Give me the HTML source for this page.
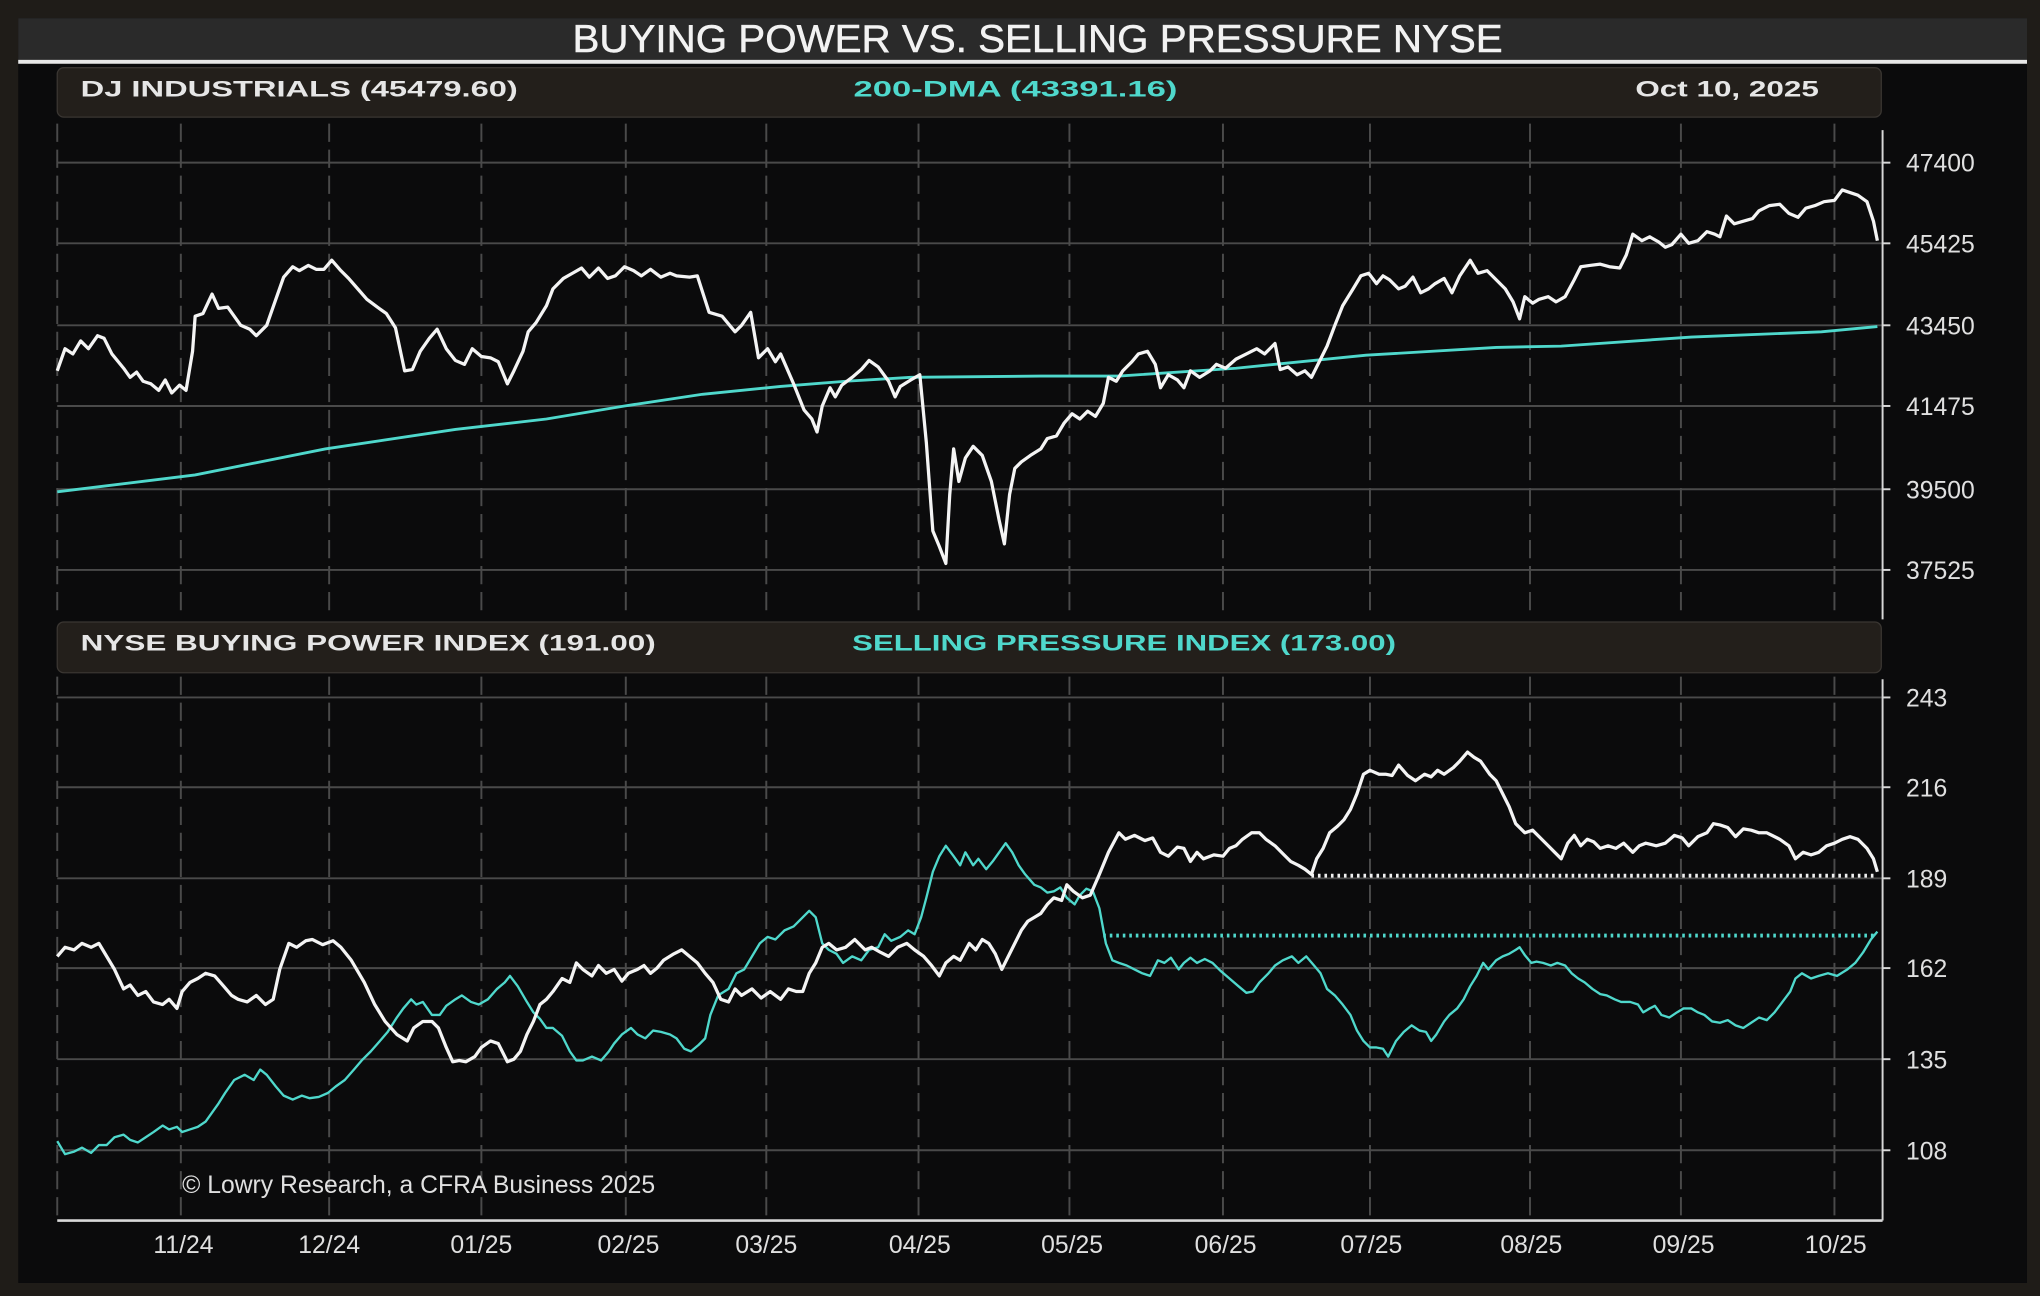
<!DOCTYPE html>
<html><head><meta charset="utf-8"><style>
html,body{margin:0;padding:0;background:#1f1c18;}
svg{display:block;}
text{font-family:"Liberation Sans",sans-serif;}
</style></head><body>
<svg width="2040" height="1296" viewBox="0 0 1568 996" preserveAspectRatio="none" xmlns="http://www.w3.org/2000/svg">
<rect x="0" y="0" width="1568" height="996" fill="#1f1c18"/>
<rect x="14" y="14" width="1544" height="972" fill="#0b0b0c"/>
<rect x="14" y="14" width="1544" height="33" fill="#2a2a2a"/>
<rect x="14" y="46" width="1544" height="3" fill="#e8e8e8"/>
<text x="440" y="40" font-size="30" fill="#f2f2f2" stroke="#f2f2f2" stroke-width="0.4" textLength="715" lengthAdjust="spacingAndGlyphs">BUYING POWER VS. SELLING PRESSURE NYSE</text>

<rect x="44" y="52" width="1402" height="38" rx="5" fill="#231f1b" stroke="#3a3632"/>
<text x="62" y="74" font-size="17" font-weight="bold" fill="#e6e6e6" textLength="336" lengthAdjust="spacingAndGlyphs">DJ INDUSTRIALS   (45479.60)</text>
<text x="656" y="74" font-size="17" font-weight="bold" fill="#4fd8cc" textLength="249" lengthAdjust="spacingAndGlyphs">200-DMA   (43391.16)</text>
<text x="1257" y="74" font-size="17" font-weight="bold" fill="#e6e6e6" textLength="141" lengthAdjust="spacingAndGlyphs">Oct 10, 2025</text>

<rect x="44" y="478" width="1402" height="39" rx="5" fill="#231f1b" stroke="#3a3632"/>
<text x="62" y="500" font-size="17" font-weight="bold" fill="#e6e6e6" textLength="442" lengthAdjust="spacingAndGlyphs">NYSE BUYING POWER INDEX   (191.00)</text>
<text x="655" y="500" font-size="17" font-weight="bold" fill="#4fd8cc" textLength="418" lengthAdjust="spacingAndGlyphs">SELLING PRESSURE INDEX   (173.00)</text>

<g stroke="#4a4a4a" stroke-width="1.5">
<line x1="44" y1="125" x2="1447" y2="125"/><line x1="44" y1="187" x2="1447" y2="187"/><line x1="44" y1="250" x2="1447" y2="250"/><line x1="44" y1="312" x2="1447" y2="312"/><line x1="44" y1="376" x2="1447" y2="376"/><line x1="44" y1="438" x2="1447" y2="438"/>
<line x1="44" y1="536" x2="1447" y2="536"/><line x1="44" y1="605" x2="1447" y2="605"/><line x1="44" y1="675" x2="1447" y2="675"/><line x1="44" y1="744" x2="1447" y2="744"/><line x1="44" y1="814" x2="1447" y2="814"/><line x1="44" y1="884" x2="1447" y2="884"/>
</g>
<g stroke="#4a4a4a" stroke-width="1.5" stroke-dasharray="14,6">
<line x1="44" y1="95" x2="44" y2="475"/><line x1="44" y1="520" x2="44" y2="938"/>
<line x1="139" y1="95" x2="139" y2="475"/><line x1="139" y1="520" x2="139" y2="938"/>
<line x1="253" y1="95" x2="253" y2="475"/><line x1="253" y1="520" x2="253" y2="938"/>
<line x1="370" y1="95" x2="370" y2="475"/><line x1="370" y1="520" x2="370" y2="938"/>
<line x1="481" y1="95" x2="481" y2="475"/><line x1="481" y1="520" x2="481" y2="938"/>
<line x1="589" y1="95" x2="589" y2="475"/><line x1="589" y1="520" x2="589" y2="938"/>
<line x1="706" y1="95" x2="706" y2="475"/><line x1="706" y1="520" x2="706" y2="938"/>
<line x1="822" y1="95" x2="822" y2="475"/><line x1="822" y1="520" x2="822" y2="938"/>
<line x1="940" y1="95" x2="940" y2="475"/><line x1="940" y1="520" x2="940" y2="938"/>
<line x1="1053" y1="95" x2="1053" y2="475"/><line x1="1053" y1="520" x2="1053" y2="938"/>
<line x1="1176" y1="95" x2="1176" y2="475"/><line x1="1176" y1="520" x2="1176" y2="938"/>
<line x1="1292" y1="95" x2="1292" y2="475"/><line x1="1292" y1="520" x2="1292" y2="938"/>
<line x1="1410" y1="95" x2="1410" y2="475"/><line x1="1410" y1="520" x2="1410" y2="938"/>
</g>
<g stroke="#d8d8d8" stroke-width="1.5">
<line x1="1447" y1="100" x2="1447" y2="476"/><line x1="1447" y1="522" x2="1447" y2="938"/>
<line x1="44" y1="938" x2="1447" y2="938" stroke-width="2"/>
<line x1="1447" y1="125" x2="1453" y2="125"/><line x1="1447" y1="187" x2="1453" y2="187"/><line x1="1447" y1="250" x2="1453" y2="250"/><line x1="1447" y1="312" x2="1453" y2="312"/><line x1="1447" y1="376" x2="1453" y2="376"/><line x1="1447" y1="438" x2="1453" y2="438"/>
<line x1="1447" y1="536" x2="1453" y2="536"/><line x1="1447" y1="605" x2="1453" y2="605"/><line x1="1447" y1="675" x2="1453" y2="675"/><line x1="1447" y1="744" x2="1453" y2="744"/><line x1="1447" y1="814" x2="1453" y2="814"/><line x1="1447" y1="884" x2="1453" y2="884"/>
</g>
<g font-size="19" fill="#e0e0e0">
<text x="1465" y="132">47400</text><text x="1465" y="194">45425</text><text x="1465" y="257">43450</text><text x="1465" y="319">41475</text><text x="1465" y="383">39500</text><text x="1465" y="445">37525</text>
<text x="1465" y="543">243</text><text x="1465" y="612">216</text><text x="1465" y="682">189</text><text x="1465" y="751">162</text><text x="1465" y="821">135</text><text x="1465" y="891">108</text>
</g>
<g font-size="19" fill="#e0e0e0" text-anchor="middle">
<text x="141" y="963">11/24</text><text x="253" y="963">12/24</text><text x="370" y="963">01/25</text><text x="483" y="963">02/25</text><text x="589" y="963">03/25</text><text x="707" y="963">04/25</text><text x="824" y="963">05/25</text><text x="942" y="963">06/25</text><text x="1054" y="963">07/25</text><text x="1177" y="963">08/25</text><text x="1294" y="963">09/25</text><text x="1411" y="963">10/25</text>
</g>
<text x="140" y="917" font-size="19" fill="#e0e0e0">© Lowry Research, a CFRA Business 2025</text>

<polyline fill="none" stroke="#4fd8cc" stroke-width="2.2" points="44,378 150,365 250,345 350,330 420,322 480,312 540,303 600,297 650,293 700,290 800,289 860,289 950,283 1050,273 1150,267 1200,266 1300,259 1400,255 1443,251"/>
<polyline fill="none" stroke="#f4f4f4" stroke-width="2.5" stroke-linejoin="round" points="44,285 50,268 56,272 62,262 68,268 75,258 80,260 86,272 95,283 100,290 105,286 110,293 116,295 122,300 127,292 132,302 138,296 143,300 148,270 150,243 156,241 163,226 168,237 175,236 185,250 192,253 197,258 205,250 212,230 218,213 225,205 230,208 237,204 243,207 249,207 255,200 262,208 268,214 275,222 282,230 290,236 297,241 304,252 311,285 317,284 323,270 330,260 336,253 343,268 350,277 357,280 363,268 370,274 377,275 383,278 390,295 395,285 402,270 406,255 412,248 420,235 425,222 433,214 440,210 447,206 453,213 460,206 467,214 473,212 480,205 487,208 493,212 500,207 508,213 515,210 520,212 530,213 536,212 545,240 555,243 565,255 570,250 577,240 583,275 590,268 596,278 600,272 610,295 618,315 624,322 628,332 632,312 638,298 642,305 647,296 655,290 662,284 668,277 675,282 683,293 688,305 692,297 700,292 707,288 712,340 717,408 722,420 727,433 730,380 733,345 737,370 742,352 748,343 755,350 762,370 768,400 772,418 776,380 780,360 785,355 792,350 800,345 805,337 812,335 818,325 824,318 830,322 836,316 842,320 848,310 852,290 858,293 863,285 870,278 875,272 882,270 888,280 892,298 898,288 905,292 910,298 915,285 922,290 930,285 935,280 942,283 950,276 958,272 966,268 972,272 980,264 984,284 990,282 997,288 1003,285 1008,290 1013,280 1020,266 1026,250 1032,235 1040,222 1046,212 1052,210 1058,218 1063,212 1068,215 1075,222 1080,220 1086,213 1092,225 1098,222 1103,218 1110,214 1116,225 1122,212 1130,200 1136,210 1143,208 1150,215 1157,222 1163,232 1168,245 1172,228 1178,233 1183,230 1190,228 1196,232 1203,228 1210,215 1215,205 1222,204 1230,203 1237,205 1245,206 1250,196 1255,180 1262,185 1268,182 1275,186 1280,190 1285,188 1292,180 1298,187 1305,185 1312,178 1318,180 1322,182 1327,166 1333,172 1340,170 1347,168 1352,162 1360,158 1368,157 1375,164 1382,167 1388,160 1395,158 1402,155 1410,154 1416,146 1422,148 1428,150 1435,155 1440,170 1443,185"/>

<line x1="1008" y1="673" x2="1443" y2="673" stroke="#f0f0f0" stroke-width="3" stroke-dasharray="2,3"/>
<line x1="848" y1="719" x2="1443" y2="719" stroke="#4fd8cc" stroke-width="3" stroke-dasharray="2,3"/>

<polyline fill="none" stroke="#4fd8cc" stroke-width="1.8" stroke-linejoin="round" points="44,877 50,887 57,885 63,882 70,886 76,880 82,880 88,874 95,872 100,876 106,878 112,874 118,870 125,865 130,868 136,866 140,870 146,868 152,866 158,862 163,855 168,848 173,840 180,830 188,826 195,830 200,822 205,826 212,835 218,842 225,845 232,842 238,844 245,843 252,840 258,835 265,830 272,822 278,815 285,808 292,800 298,793 305,782 310,775 316,768 320,772 325,770 332,780 338,780 343,773 350,768 355,765 362,770 368,772 375,768 382,760 388,755 392,750 398,758 405,770 410,778 415,783 420,790 425,790 432,796 438,808 443,815 448,815 455,812 462,815 468,808 472,802 478,795 485,790 490,795 496,798 502,792 508,793 515,795 520,798 526,806 531,808 537,803 542,798 546,780 552,765 560,760 566,748 572,745 578,735 584,725 590,720 596,722 603,715 610,712 617,705 622,700 627,705 632,725 637,730 643,733 648,740 655,735 662,738 668,730 675,728 680,718 685,723 692,720 698,715 703,718 708,705 712,690 717,670 722,658 727,650 733,658 738,665 742,655 748,665 752,660 758,668 763,662 768,655 773,648 778,655 783,665 788,672 795,680 800,682 805,686 810,685 815,682 820,690 826,695 830,688 835,683 840,685 845,698 850,725 855,738 860,740 866,742 872,745 878,748 884,750 890,738 895,740 900,736 906,745 910,740 915,736 920,740 926,737 932,740 938,746 945,752 952,758 958,763 963,762 968,755 975,748 980,742 986,738 993,735 998,740 1004,735 1010,742 1015,748 1020,760 1026,765 1032,772 1038,780 1043,792 1048,800 1053,805 1058,805 1063,806 1067,812 1073,800 1079,793 1085,788 1091,792 1096,793 1100,800 1104,795 1110,785 1114,780 1120,775 1125,768 1130,758 1135,750 1140,740 1144,745 1150,738 1155,735 1160,733 1165,730 1168,728 1172,734 1177,740 1181,739 1186,740 1192,742 1197,740 1203,742 1208,748 1213,752 1218,755 1224,760 1230,764 1235,765 1241,768 1246,770 1253,770 1259,772 1263,778 1268,775 1272,773 1277,780 1283,782 1289,778 1294,775 1300,775 1305,778 1310,780 1316,785 1322,786 1328,784 1334,788 1340,790 1346,786 1352,782 1358,784 1364,778 1370,770 1376,762 1380,752 1385,748 1392,752 1398,750 1405,748 1412,750 1420,745 1426,740 1432,732 1438,722 1443,716"/>

<polyline fill="none" stroke="#f4f4f4" stroke-width="2.5" stroke-linejoin="round" points="44,735 50,728 57,730 63,725 70,728 76,725 82,735 88,745 95,760 100,757 106,765 112,762 118,770 125,772 130,768 136,775 140,762 146,755 152,752 158,748 165,750 172,758 178,765 183,768 190,770 197,765 204,772 210,768 215,745 222,725 228,728 235,723 240,722 248,726 256,723 262,728 270,738 280,755 288,772 296,785 305,795 313,800 318,790 325,785 332,785 337,790 343,805 348,816 353,815 358,816 365,812 370,805 377,800 383,802 390,816 395,814 400,808 405,795 410,785 415,772 420,768 425,762 432,752 438,755 443,740 448,745 455,750 460,742 466,748 472,745 478,754 483,748 490,745 495,742 500,748 505,744 510,738 518,733 524,730 530,735 536,740 542,748 548,755 554,768 560,770 565,760 570,765 578,760 585,767 592,762 600,768 606,760 612,762 617,762 622,748 627,740 632,728 637,725 643,730 650,728 657,722 665,730 670,728 677,732 683,735 690,728 697,725 703,730 710,735 716,742 722,750 727,740 733,735 738,738 745,725 750,730 755,722 760,725 765,733 770,745 775,735 780,725 785,715 790,708 795,705 800,702 805,695 810,690 816,692 820,680 825,685 832,690 838,688 845,672 852,655 860,640 865,645 872,642 880,646 886,644 892,655 898,658 905,651 910,652 915,662 920,655 925,660 933,657 940,658 945,652 950,650 955,645 962,640 968,640 973,645 980,650 986,656 992,662 998,665 1003,668 1008,672 1012,660 1017,652 1022,640 1028,635 1033,630 1038,622 1043,610 1048,595 1053,592 1060,595 1065,595 1070,596 1075,588 1082,596 1088,600 1095,595 1100,597 1105,592 1110,595 1117,590 1122,585 1128,578 1133,582 1138,585 1145,595 1150,600 1155,610 1160,620 1165,633 1172,640 1178,638 1185,645 1190,650 1195,655 1200,660 1205,648 1210,642 1215,650 1220,645 1225,647 1230,652 1236,650 1242,652 1248,648 1255,655 1260,650 1265,648 1273,650 1280,648 1287,642 1293,644 1298,650 1305,643 1312,640 1317,633 1322,634 1328,636 1334,643 1340,637 1346,638 1352,640 1358,640 1362,642 1368,645 1375,650 1380,660 1386,655 1392,657 1398,655 1404,650 1410,648 1416,645 1422,643 1428,645 1435,652 1440,660 1443,670"/>
</svg>
</body></html>
